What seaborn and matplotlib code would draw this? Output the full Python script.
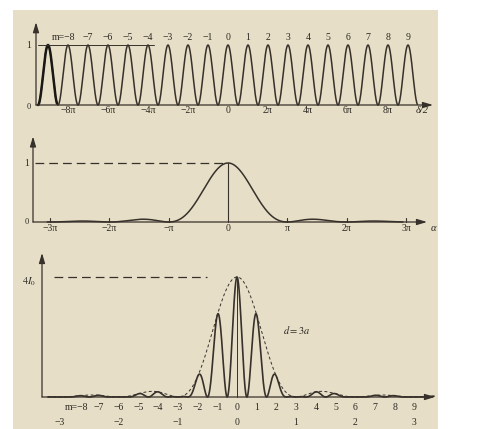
import numpy as np
import pandas as pd
import matplotlib
matplotlib.use("Agg")
import matplotlib.pyplot as plt
import seaborn as sns
from matplotlib.patches import Rectangle

# ---------------- data ----------------
top_orders = list(range(-8, 10))                 # interference orders labelled in panel (a)
top_tick_pos = [-8, -6, -4, -2, 0, 2, 4, 6, 8]  # delta/2 in units of pi
top_tick_labels = ["−8π", "−6π", "−4π", "−2π", "0", "2π", "4π", "6π", "8π"]
top_range = [-9.5, 9.47]                         # delta/2 / pi span of the fringe curve

mid_tick_pos = [-3, -2, -1, 0, 1, 2, 3]          # alpha in units of pi
mid_tick_labels = ["−3π", "−2π", "−π", "0", "π", "2π", "3π"]
mid_range = [-3.05, 2.95]

d_over_a = 3                                     # d = 3a
bot_orders = list(range(-8, 10))
bot_alpha_pos = [-9, -6, -3, 0, 3, 6, 9]         # orders where alpha = k*pi
bot_alpha_labels = ["−3", "−2", "−1", "0", "1", "2", "3"]
bot_range = [-9.6, 10.0]
peak_level = 1.0                                 # I / 4I0 at centre

# ---------------- curves ----------------
xt = np.linspace(top_range[0], top_range[1], 3000)
df_top = pd.DataFrame({"x": xt, "I": np.cos(np.pi * xt) ** 2})

xm = np.linspace(mid_range[0], mid_range[1], 1500)
df_mid = pd.DataFrame({"x": xm, "I": np.sinc(xm) ** 2})

xb = np.linspace(bot_range[0], bot_range[1], 4000)
env = np.sinc(xb / d_over_a) ** 2
df_bot = pd.DataFrame({"x": xb, "I": peak_level * env * np.cos(np.pi * xb) ** 2,
                       "env": peak_level * env})

# ---------------- style ----------------
W, H = 485, 429
BG = "#e6dec6"
LC = "#37312b"
TC = "#2c2823"
sns.set_theme(style="white")
plt.rcParams["font.family"] = ["Liberation Serif", "DejaVu Serif"]
plt.rcParams["mathtext.fontset"] = "stix"

fig = plt.figure(figsize=(W / 100, H / 100), dpi=100)
fig.patch.set_facecolor("white")
fig.add_artist(Rectangle((13 / W, 0), (438 - 13) / W, 1 - 10 / H,
                         transform=fig.transFigure, facecolor=BG,
                         edgecolor="none", zorder=0))


def make_ax(px0, px1, py_top, py_bot, x0, x1, y_top, y_bot):
    ax = fig.add_axes([px0 / W, 1 - py_bot / H, (px1 - px0) / W, (py_bot - py_top) / H])
    ax.set_xlim(x0, x1)
    ax.set_ylim(y_bot, y_top)
    ax.axis("off")
    ax.patch.set_alpha(0)
    return ax


def axes_arrows(ax, x0, x1, ytop):
    ap = dict(arrowstyle="-|>,head_length=0.5,head_width=0.15", color=LC, lw=0.9,
              shrinkA=0, shrinkB=0)
    ax.annotate("", xy=(x0, ytop), xytext=(x0, 0), arrowprops=ap, annotation_clip=False)
    ax.annotate("", xy=(x1, 0), xytext=(x0, 0), arrowprops=ap, annotation_clip=False)


# ---------------- panel (a): cos^2 fringes ----------------
ax1 = make_ax(36, 433, 18, 118, -9.6, 10.25, 87 / 60, -13 / 60)
axes_arrows(ax1, -9.6, 10.25, 1.38)
sns.lineplot(data=df_top, x="x", y="I", ax=ax1, color=LC, lw=1.1, legend=False)
sns.lineplot(data=df_top[df_top["x"] < -8.55], x="x", y="I", ax=ax1, color="#1a1714",
             lw=1.8, legend=False)
ax1.plot([-9.5, -3.7], [1, 1], color=LC, lw=0.7)
ax1.set_xlim(-9.6, 10.25)
ax1.set_ylim(-13 / 60, 87 / 60)
ax1.axis("off")
for m in top_orders:
    lab = f"m=−{abs(m)}" if m == -8 else (f"−{abs(m)}" if m < 0 else str(m))
    ax1.text(m + (0.35 if m == -8 else 0), 1.13, lab, ha="right" if m == -8 else "center",
             va="center", fontsize=7, color=TC)
for p, lab in zip(top_tick_pos, top_tick_labels):
    ax1.text(p, -0.09, lab, ha="center", va="center", fontsize=7, color=TC)
ax1.text(9.7, -0.09, "δ/2", ha="center", va="center", fontsize=7.5, color=TC,
         style="italic")
ax1.text(-9.85, 1.0, "1", ha="right", va="center", fontsize=7, color=TC)
ax1.text(-9.85, -0.03, "0", ha="right", va="center", fontsize=6, color=TC)

# ---------------- panel (b): single-slit envelope ----------------
ax2 = make_ax(33, 427, 133, 240, -3.29, 3.355, 89 / 59, -18 / 59)
axes_arrows(ax2, -3.29, 3.355, 1.45)
sns.lineplot(data=df_mid, x="x", y="I", ax=ax2, color=LC, lw=1.1, legend=False)
ax2.plot([-3.25, 0], [1, 1], color=LC, lw=0.9, dashes=(7, 4))
ax2.plot([0, 0], [0, 1], color=LC, lw=0.8)
for p in mid_tick_pos:
    if p != 0:
        ax2.plot([p, p], [0, 0.06], color=LC, lw=0.8)
ax2.set_xlim(-3.29, 3.355)
ax2.set_ylim(-18 / 59, 89 / 59)
ax2.axis("off")
for p, lab in zip(mid_tick_pos, mid_tick_labels):
    ax2.text(p, -0.11, lab, ha="center", va="center", fontsize=7, color=TC)
ax2.text(3.47, -0.11, "α", ha="center", va="center", fontsize=7.5, color=TC,
         style="italic")
ax2.text(-3.36, 1.0, "1", ha="right", va="center", fontsize=7, color=TC)
ax2.text(-3.36, 0.0, "0", ha="right", va="center", fontsize=6, color=TC)

# ---------------- panel (c): double slit, d = 3a ----------------
ax3 = make_ax(42, 435, 250, 429, -9.9, 10.05, 147 / 120, -32 / 120)
axes_arrows(ax3, -9.9, 10.05, 1.2)
sns.lineplot(data=df_bot, x="x", y="env", ax=ax3, color=LC, lw=0.7, legend=False)
ax3.lines[-1].set_dashes((3, 2.5))
sns.lineplot(data=df_bot, x="x", y="I", ax=ax3, color=LC, lw=1.2, legend=False)
ax3.plot([-9.3, -1.5], [peak_level, peak_level], color=LC, lw=0.9, dashes=(7, 4))
ax3.plot([0, 0], [0, peak_level], color=LC, lw=0.7)
ax3.set_xlim(-9.9, 10.05)
ax3.set_ylim(-32 / 120, 147 / 120)
ax3.axis("off")
for m in bot_orders:
    lab = f"m=−{abs(m)}" if m == -8 else (f"−{abs(m)}" if m < 0 else str(m))
    ax3.text(m + (0.45 if m == -8 else 0), -0.085, lab, ha="right" if m == -8 else "center",
             va="center", fontsize=7, color=TC)
for p, lab in zip(bot_alpha_pos, bot_alpha_labels):
    ax3.text(p, -0.215, lab, ha="center", va="center", fontsize=7, color=TC)
ax3.text(-10.2, 0.96, "$4I_0$", ha="right", va="center", fontsize=7.5, color=TC)
ax3.text(3.05, 0.56, "$d=3a$", ha="center", va="center", fontsize=7.5, color=TC)

fig.savefig("out.png", dpi=100, facecolor="white")
